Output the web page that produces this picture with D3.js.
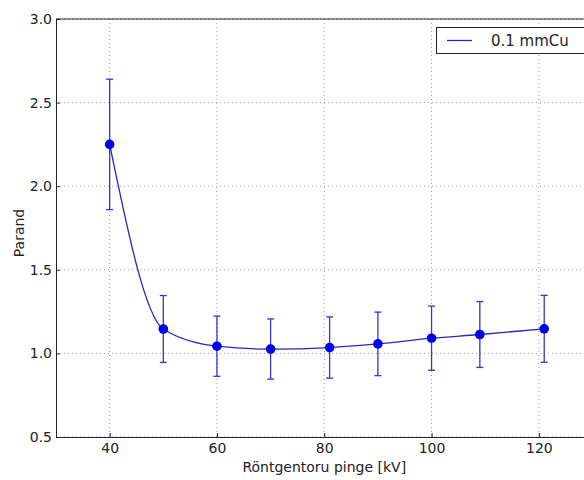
<!DOCTYPE html>
<html>
<head>
<meta charset="utf-8">
<script src="https://cdn.jsdelivr.net/npm/d3@7"></script>
<style>
  body { margin: 0; background: #fff; }
  svg { font-family: "DejaVu Sans", sans-serif; }
</style>
</head>
<body>
<div class="chart"></div>
<script>
//Data
var voltages = [40, 50, 60, 70, 81, 90, 100, 109, 121];
var ratios = [2.25, 1.146, 1.043, 1.026, 1.035, 1.057, 1.091, 1.113, 1.147];
var errors = [0.39, 0.2, 0.18, 0.18, 0.183, 0.19, 0.192, 0.197, 0.2];
var xTicks = [40, 60, 80, 100, 120];
var yTicks = [0.5, 1.0, 1.5, 2.0, 2.5, 3.0];
var seriesName = "0.1 mmCu";

//Width and height
var w = 584;
var h = 480;
var padLeft = 56, padTop = 19, plotW = 536.5, plotH = 418;

var svg = d3.select(".chart")
    .append("svg")
    .attr("width", w)
    .attr("height", h);

//Scales
var xScale = d3.scaleLinear()
    .domain([30, 130])
    .range([padLeft, padLeft + plotW]);

var yScale = d3.scaleLinear()
    .domain([0.5, 3.0])
    .range([padTop + plotH, padTop]);

//Grid
svg.append("g")
    .selectAll("line")
    .data(xTicks)
    .enter()
    .append("line")
    .attr("x1", d => xScale(d))
    .attr("x2", d => xScale(d))
    .attr("y1", padTop)
    .attr("y2", padTop + plotH)
    .attr("stroke", "#999")
    .attr("stroke-dasharray", "1,3");

svg.append("g")
    .selectAll("line")
    .data(yTicks)
    .enter()
    .append("line")
    .attr("x1", padLeft)
    .attr("x2", padLeft + plotW)
    .attr("y1", d => yScale(d))
    .attr("y2", d => yScale(d))
    .attr("stroke", "#999")
    .attr("stroke-dasharray", "1,3");

//Axes
var xAxis = d3.axisBottom(xScale)
    .tickValues(xTicks)
    .tickFormat(d3.format("d"))
    .tickSizeInner(-4)
    .tickSizeOuter(0)
    .tickPadding(6);
svg.append("g")
    .attr("transform", "translate(0, " + (padTop + plotH) + ")")
    .call(xAxis);

var yAxis = d3.axisLeft(yScale)
    .tickValues(yTicks)
    .tickFormat(d3.format(".1f"))
    .tickSizeInner(-4)
    .tickSizeOuter(0)
    .tickPadding(4);
svg.append("g")
    .attr("transform", "translate(" + padLeft + ", 0)")
    .call(yAxis);

svg.selectAll(".tick text")
    .attr("font-size", 14)
    .attr("fill", "#222")
    .attr("font-family", "DejaVu Sans");
svg.selectAll(".domain").attr("stroke", "#222");
svg.selectAll(".tick line").attr("stroke", "#222");

//Top and right frame
svg.append("line")
    .attr("x1", padLeft).attr("x2", padLeft + plotW)
    .attr("y1", padTop).attr("y2", padTop)
    .attr("stroke", "#222");
svg.append("line")
    .attr("x1", padLeft + plotW).attr("x2", padLeft + plotW)
    .attr("y1", padTop).attr("y2", padTop + plotH)
    .attr("stroke", "#222");

//Axis labels
svg.append("text")
    .attr("x", xScale(80))
    .attr("y", 472)
    .attr("text-anchor", "middle")
    .attr("font-size", 14)
    .attr("fill", "#222")
    .text("Röntgentoru pinge [kV]");

svg.append("text")
    .attr("transform", "translate(24, 233) rotate(-90)")
    .attr("text-anchor", "middle")
    .attr("font-size", 14)
    .attr("fill", "#222")
    .text("Parand");

var pts = voltages.map((v, i) => ({x: v, y: ratios[i], e: errors[i]}));

//Smooth curve
var line = d3.line()
    .x(d => xScale(d.x))
    .y(d => yScale(d.y))
    .curve(d3.curveMonotoneX);

svg.append("path")
    .datum(pts)
    .attr("d", line)
    .attr("fill", "none")
    .attr("stroke", "#2626c0")
    .attr("stroke-width", 1.3);

//Error bars
var eb = svg.append("g")
    .attr("stroke", "#3535c8")
    .attr("stroke-width", 1.3);
eb.selectAll(".bar")
    .data(pts)
    .enter()
    .append("line")
    .attr("x1", d => xScale(d.x))
    .attr("x2", d => xScale(d.x))
    .attr("y1", d => yScale(d.y - d.e))
    .attr("y2", d => yScale(d.y + d.e));
eb.selectAll(".capTop")
    .data(pts)
    .enter()
    .append("line")
    .attr("x1", d => xScale(d.x) - 3.5)
    .attr("x2", d => xScale(d.x) + 3.5)
    .attr("y1", d => yScale(d.y + d.e))
    .attr("y2", d => yScale(d.y + d.e));
eb.selectAll(".capBot")
    .data(pts)
    .enter()
    .append("line")
    .attr("x1", d => xScale(d.x) - 3.5)
    .attr("x2", d => xScale(d.x) + 3.5)
    .attr("y1", d => yScale(d.y - d.e))
    .attr("y2", d => yScale(d.y - d.e));

//Points
svg.selectAll(".pt")
    .data(pts)
    .enter()
    .append("circle")
    .attr("cx", d => xScale(d.x))
    .attr("cy", d => yScale(d.y))
    .attr("r", 4.8)
    .attr("fill", "#0000e8");

//Legend
var legend = svg.append("g");
legend.append("rect")
    .attr("x", 436.5)
    .attr("y", 27.5)
    .attr("width", 160)
    .attr("height", 26)
    .attr("fill", "#fff")
    .attr("stroke", "#222");
legend.append("line")
    .attr("x1", 447).attr("x2", 472)
    .attr("y1", 40.5).attr("y2", 40.5)
    .attr("stroke", "#2626c0")
    .attr("stroke-width", 1.3);
legend.append("text")
    .attr("x", 491)
    .attr("y", 46)
    .attr("font-size", 15)
    .attr("fill", "#222")
    .text(seriesName);
</script>
</body>
</html>
